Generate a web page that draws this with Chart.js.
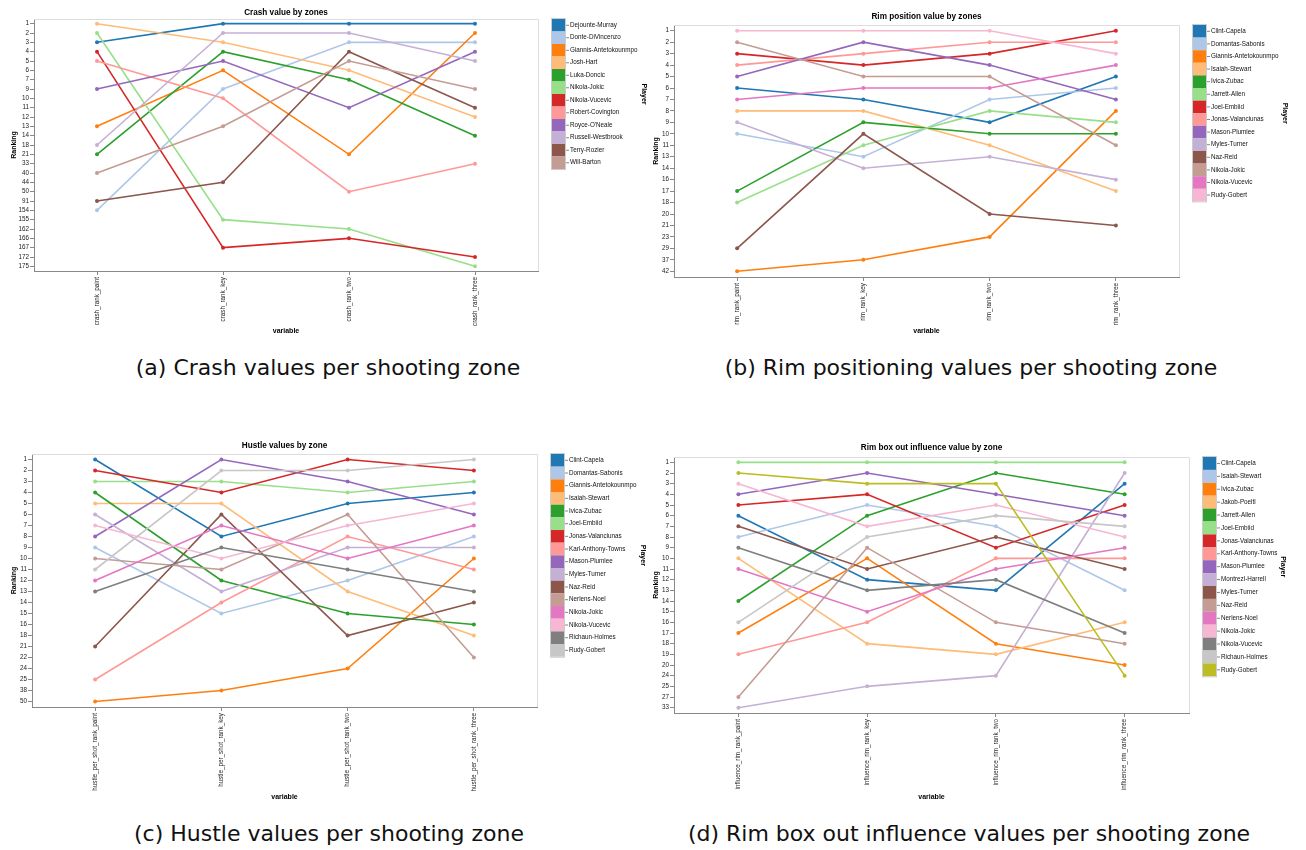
<!DOCTYPE html>
<html><head><meta charset="utf-8">
<script src="https://cdn.jsdelivr.net/npm/chart.js@4.4.1/dist/chart.umd.min.js"></script>
<style>
html,body{margin:0;padding:0;background:#fff}
body{width:1306px;height:850px;position:relative;overflow:hidden}
canvas{position:absolute;display:block}
.cap{position:absolute;font-family:'DejaVu Sans',sans-serif;font-size:22px;color:#111;white-space:nowrap;transform:translate(-50%,-50%);line-height:1.2}
</style></head><body>
<canvas id="ca" width="650" height="339" style="left:0;top:0"></canvas>
<canvas id="cb" width="666" height="339" style="left:640px;top:0"></canvas>
<canvas id="cc" width="650" height="375" style="left:0;top:430px"></canvas>
<canvas id="cd" width="666" height="375" style="left:640px;top:430px"></canvas>
<div class="cap" style="left:328px;top:368px">(a) Crash values per shooting zone</div>
<div class="cap" style="left:971px;top:368px">(b) Rim positioning values per shooting zone</div>
<div class="cap" style="left:329px;top:834px">(c) Hustle values per shooting zone</div>
<div class="cap" style="left:969px;top:834px">(d) Rim box out influence values per shooting zone</div>
<script>
const TAB20 = ['#1f77b4','#aec7e8','#ff7f0e','#ffbb78','#2ca02c','#98df8a','#d62728','#ff9896','#9467bd','#c5b0d5','#8c564b','#c49c94','#e377c2','#f7b6d2','#7f7f7f','#c7c7c7','#bcbd22','#dbdb8d'];

// (a) Crash
const crashZones = ['crash_rank_paint','crash_rank_key','crash_rank_two','crash_rank_three'];
const crashTicks = ['1','2','3','4','5','6','7','9','10','11','12','13','14','18','21','33','40','44','50','91','154','155','162','166','167','172','175'];
const crashPlayers = ['Dejounte-Murray','Donte-DiVincenzo','Giannis-Antetokounmpo','Josh-Hart','Luka-Doncic','Nikola-Jokic','Nikola-Vucevic','Robert-Covington',"Royce-O'Neale",'Russell-Westbrook','Terry-Rozier','Will-Barton'];
const crashRanks = [
  [3,1,1,1],[154,9,3,3],[13,6,21,2],[1,3,6,12],[21,4,7,14],[2,155,162,175],
  [4,167,166,172],[5,10,50,33],[9,5,11,4],[18,2,2,5],[91,44,4,11],[40,13,5,9]
];

// (b) Rim position
const rimZones = ['rim_rank_paint','rim_rank_key','rim_rank_two','rim_rank_three'];
const rimTicks = ['1','2','3','4','5','6','7','8','9','10','11','13','14','16','17','18','20','21','23','29','37','42'];
const rimPlayers = ['Clint-Capela','Domantas-Sabonis','Giannis-Antetokounmpo','Isaiah-Stewart','Ivica-Zubac','Jarrett-Allen','Joel-Embiid','Jonas-Valanciunas','Mason-Plumlee','Myles-Turner','Naz-Reid','Nikola-Jokic','Nikola-Vucevic','Rudy-Gobert'];
const rimRanks = [
  [6,7,9,5],[10,13,7,6],[42,37,23,8],[8,8,11,17],[17,9,10,10],[18,11,8,9],[3,4,3,1],
  [4,3,2,2],[5,2,4,7],[9,14,13,16],[29,10,20,21],[2,5,5,11],[7,6,6,4],[1,1,1,3]
];

// (c) Hustle
const hustleZones = ['hustle_per_shot_rank_paint','hustle_per_shot_rank_key','hustle_per_shot_rank_two','hustle_per_shot_rank_three'];
const hustleTicks = ['1','2','3','4','5','6','7','8','9','10','11','12','13','14','15','16','18','21','22','24','25','38','50'];
const hustlePlayers = ['Clint-Capela','Domantas-Sabonis','Giannis-Antetokounmpo','Isaiah-Stewart','Ivica-Zubac','Joel-Embiid','Jonas-Valanciunas','Karl-Anthony-Towns','Mason-Plumlee','Myles-Turner','Naz-Reid','Nerlens-Noel','Nikola-Jokic','Nikola-Vucevic','Richaun-Holmes','Rudy-Gobert'];
const hustleRanks = [
  [1,8,5,4],[9,15,12,8],[50,38,24,10],[5,5,13,18],[4,12,15,16],[3,3,4,3],[2,4,1,2],[25,14,8,11],
  [8,1,3,6],[6,13,9,9],[21,6,18,14],[10,11,6,22],[12,7,10,7],[7,10,7,5],[13,9,11,13],[11,2,2,1]
];

// (d) Rim box out influence
const influenceZones = ['influence_rim_rank_paint','influence_rim_rank_key','influence_rim_rank_two','influence_rim_rank_three'];
const influenceTicks = ['1','2','3','4','5','6','7','8','9','10','11','12','13','14','15','16','17','18','19','20','24','25','27','33'];
const influencePlayers = ['Clint-Capela','Isaiah-Stewart','Ivica-Zubac','Jakob-Poeltl','Jarrett-Allen','Joel-Embiid','Jonas-Valanciunas','Karl-Anthony-Towns','Mason-Plumlee','Montrezl-Harrell','Myles-Turner','Naz-Reid','Nerlens-Noel','Nikola-Jokic','Nikola-Vucevic','Richaun-Holmes','Rudy-Gobert'];
const influenceRanks = [
  [6,12,13,3],[8,5,7,13],[17,10,18,20],[10,18,19,16],[14,6,2,4],[1,1,1,1],[5,4,9,5],[19,16,10,10],
  [4,2,4,6],[33,25,24,2],[7,11,8,11],[27,9,16,18],[11,15,11,9],[3,7,5,8],[9,13,12,17],[16,8,6,7],[2,3,3,24]
];

Chart.defaults.font.family = "'Liberation Sans', Arial, sans-serif";
Chart.defaults.color = '#222';

const vegaDecor = {
  id: 'vegaDecor',
  beforeDatasetsDraw(chart) {
    const {ctx, chartArea: a} = chart;
    ctx.save();
    ctx.strokeStyle = '#dddddd'; ctx.lineWidth = 1;
    ctx.beginPath();
    ctx.moveTo(Math.round(a.left), Math.round(a.top) + 0.5);
    ctx.lineTo(Math.round(a.right) + 0.5, Math.round(a.top) + 0.5);
    ctx.lineTo(Math.round(a.right) + 0.5, Math.round(a.bottom));
    ctx.stroke();
    ctx.restore();
  },
  afterDraw(chart, args, opts) {
    if (!opts || !opts.rowH) return;
    const {ctx, chartArea: a} = chart;
    const ds = chart.data.datasets;
    const bx = Math.round(a.right) + 14, by = Math.round(a.top), bw = 13, rh = opts.rowH;
    ctx.save();
    ds.forEach((d, i) => { ctx.fillStyle = d.borderColor; ctx.fillRect(bx, by + i * rh, bw, rh); });
    ctx.strokeStyle = '#cccccc'; ctx.lineWidth = 1;
    ctx.strokeRect(bx - 0.5, by - 0.5, bw + 1, ds.length * rh + 1);
    ctx.font = "6.3px 'Liberation Sans', Arial, sans-serif";
    ctx.textBaseline = 'middle'; ctx.textAlign = 'left';
    let maxR = 0;
    ds.forEach((d, i) => {
      const cy = by + (i + 0.5) * rh;
      ctx.strokeStyle = '#888'; ctx.beginPath();
      ctx.moveTo(bx + bw + 1, cy); ctx.lineTo(bx + bw + 4, cy); ctx.stroke();
      ctx.fillStyle = '#111';
      ctx.fillText(d.label, bx + bw + 5, cy);
      maxR = Math.max(maxR, bx + bw + 5 + ctx.measureText(d.label).width);
    });
    ctx.font = "bold 7px 'Liberation Sans', Arial, sans-serif";
    ctx.fillStyle = '#000';
    ctx.translate(maxR + 6, by + ds.length * rh / 2);
    ctx.rotate(Math.PI / 2);
    ctx.textAlign = 'center';
    ctx.fillText('Player', 0, 0);
    ctx.restore();
  }
};

function makeChart(id, c) {
  const datasets = c.players.map((p, i) => ({
    label: p,
    data: c.ranks[i].map(String),
    borderColor: TAB20[i],
    backgroundColor: TAB20[i],
    pointBackgroundColor: TAB20[i],
    pointBorderColor: TAB20[i],
    borderWidth: 1.6,
    pointRadius: 2,
    pointHoverRadius: 2,
    pointBorderWidth: 0,
    tension: 0,
    fill: false,
    order: -i,
    clip: false
  }));
  return new Chart(document.getElementById(id), {
    type: 'line',
    data: { labels: c.zones, datasets },
    plugins: [vegaDecor],
    options: {
      responsive: false,
      animation: false,
      events: [],
      layout: { padding: { right: c.padRight, left: 0, top: 0, bottom: 0 } },
      plugins: {
        legend: { display: false },
        tooltip: { enabled: false },
        title: {
          display: true, text: c.title, fullSize: false, color: '#000',
          font: { size: 8.2, weight: 'bold' },
          padding: { top: c.tTop, bottom: c.tBottom }
        },
        vegaDecor: { rowH: c.rowH }
      },
      scales: {
        x: {
          type: 'category',
          offset: true,
          grid: { display: true, drawOnChartArea: false, drawTicks: true, tickLength: 4, color: '#888' },
          border: { display: true, color: '#888', width: 1 },
          ticks: { autoSkip: false, maxRotation: 90, minRotation: 90, padding: 2, color: '#222', font: { size: 6.3 } },
          title: { display: true, text: 'variable', color: '#000', font: { size: 7, weight: 'bold' }, padding: { top: 4, bottom: 4 } },
          afterFit: s => { s.height = c.xH; }
        },
        y: {
          type: 'category',
          labels: c.ticks,
          offset: true,
          position: 'left',
          grid: { display: true, drawOnChartArea: false, drawTicks: true, tickLength: 4, color: '#888' },
          border: { display: true, color: '#888', width: 1 },
          ticks: { autoSkip: false, padding: 1, color: '#222', font: { size: 6.3 } },
          title: { display: true, text: 'Ranking', color: '#000', font: { size: 7, weight: 'bold' }, padding: { top: c.yTitlePad, bottom: 2 } },
          afterFit: s => { s.width = c.yW; }
        }
      }
    }
  });
}

makeChart('ca', { zones: crashZones, ticks: crashTicks, players: crashPlayers, ranks: crashRanks,
  title: 'Crash value by zones', padRight: 112, tTop: 7.4, tBottom: 1.76, xH: 68, yW: 34, yTitlePad: 9.8, rowH: 12.5 });
makeChart('cb', { zones: rimZones, ticks: rimTicks, players: rimPlayers, ranks: rimRanks,
  title: 'Rim position value by zones', padRight: 127, tTop: 11.8, tBottom: 3.36, xH: 62, yW: 34, yTitlePad: 11.8, rowH: 12.6 });
makeChart('cc', { zones: hustleZones, ticks: hustleTicks, players: hustlePlayers, ranks: hustleRanks,
  title: 'Hustle values by zone', padRight: 113, tTop: 11.1, tBottom: 3.06, xH: 98, yW: 32, yTitlePad: 9.8, rowH: 12.67 });
makeChart('cd', { zones: influenceZones, ticks: influenceTicks, players: influencePlayers, ranks: influenceRanks,
  title: 'Rim box out influence value by zone', padRight: 117, tTop: 13.1, tBottom: 4.06, xH: 92, yW: 34, yTitlePad: 11.8, rowH: 12.9 });
</script>
</body></html>
